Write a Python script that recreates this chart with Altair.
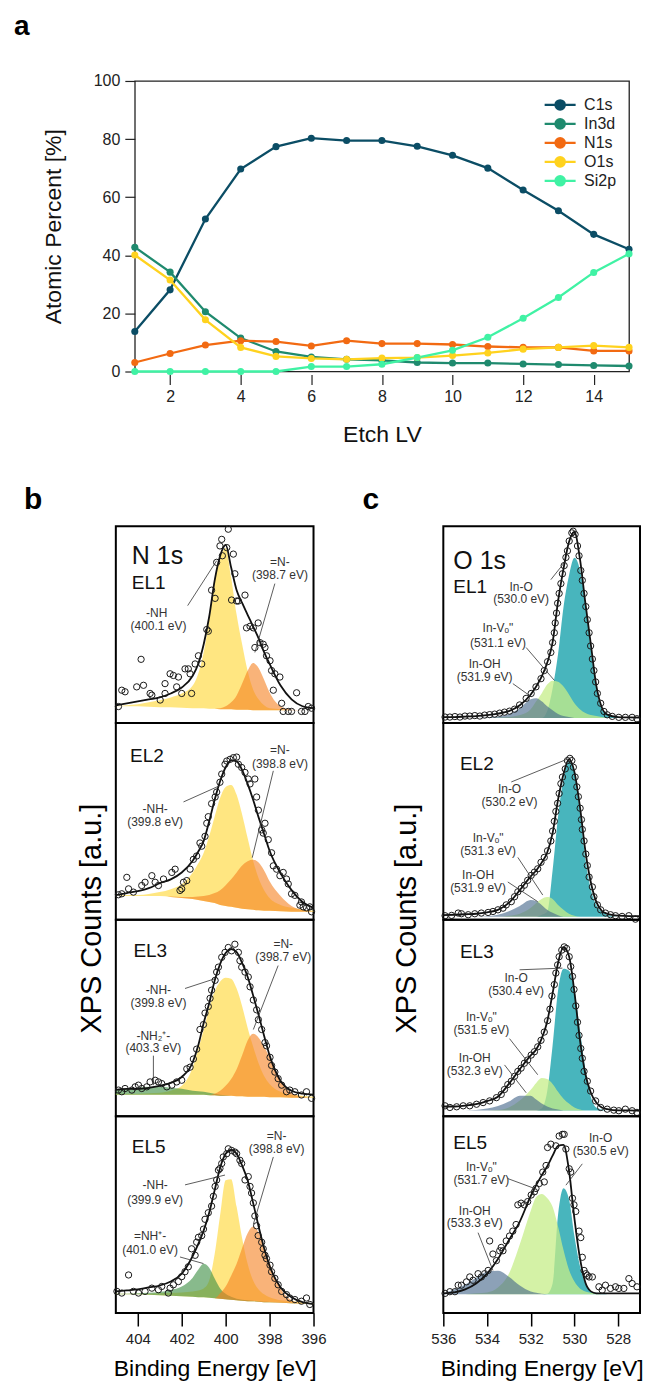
import altair as alt
import pandas as pd

FONT = "Liberation Sans"

# ---------------- (a) atomic percent vs etch level ----------------
etch_lv = list(range(1, 16))
elements = ["C1s", "In3d", "N1s", "O1s", "Si2p"]
c1s = [13.8, 28.1, 52.5, 69.7, 77.4, 80.3, 79.5, 79.5, 77.5, 74.4, 70.0, 62.5, 55.3, 47.2, 42.1]
in3d = [42.8, 34.2, 20.6, 11.5, 6.9, 5.0, 4.2, 3.8, 3.1, 2.9, 2.9, 2.6, 2.4, 2.1, 1.9]
n1s = [3.1, 6.2, 9.1, 10.6, 10.3, 8.8, 10.6, 9.6, 9.6, 9.3, 8.6, 8.3, 8.3, 7.1, 7.1]
o1s = [40.1, 31.5, 17.8, 8.3, 5.2, 4.5, 4.2, 4.6, 4.8, 5.5, 6.4, 7.7, 8.3, 8.9, 8.3]
si2p = [0, 0, 0, 0, 0, 1.7, 1.7, 2.5, 4.8, 7.3, 11.8, 18.3, 25.5, 34.1, 40.5]
a_xticks = [2, 4, 6, 8, 10, 12, 14]
a_yticks = [0, 20, 40, 60, 80, 100]

# ---------------- (b) N 1s spectra ----------------
n_ticks = [404, 402, 400, 398, 396]
n_grid = [405, 404.5, 404, 403.5, 403, 402.5, 402, 401.5, 401.25, 401, 400.75, 400.5, 400.25,
          400, 399.75, 399.5, 399.25, 399, 398.75, 398.5, 398.25, 398, 397.5, 397, 396.5, 396]

n1_bg = [17, 17, 17, 16.5, 16, 16, 15.5, 15, 15, 15, 14.5, 14.5, 14, 14, 14, 13.5, 13.5, 13.5, 13, 13, 13, 13, 13, 13, 13, 13]
n1_nh = [17, 18, 19, 21, 23, 26, 30, 38, 50, 72, 105, 145, 168, 178, 148, 110, 80, 53, 34, 24, 18, 15, 14, 13, 13, 13]
n1_n = [17, 17, 17, 16.5, 16, 16, 15.5, 15, 15, 15, 14.5, 14.5, 15, 17, 21, 28, 40, 53, 61, 56, 44, 31, 17, 13.5, 13, 13]
n1_env = [18, 20, 22, 24, 26, 30, 36, 48, 60, 80, 108, 145, 170, 181, 158, 135, 122, 110, 98, 86, 72, 60, 38, 24, 17, 15]
n1_pE = [404.88, 404.73, 404.58, 404.05, 403.85, 403.74, 403.44, 403.36, 402.98, 402.76, 402.76, 402.53, 402.38,
         402.23, 402.15, 402.0, 401.85, 401.7, 401.62, 401.55, 401.39, 401.24, 401.09, 400.86, 400.79, 400.64,
         400.48, 400.41, 400.26, 400.18, 400.15, 399.95, 399.88, 399.65, 399.58, 399.5, 399.73, 399.42, 399.12,
         399.05, 398.89, 398.74, 398.67, 398.52, 398.44, 398.29, 398.21, 398.14, 397.98, 397.91, 397.76, 397.53,
         397.83, 397.45, 397.15, 396.77, 396.55, 396.39, 396.24, 396.09, 397.38, 397.0]
n1_pI = [16.7, 33.3, 31.7, 36.7, 64.7, 38.3, 30, 28.3, 23.3, 40, 30, 50, 48.3, 36.7, 46.7, 30, 55, 55, 50, 30, 60,
         68.3, 60, 95, 93.3, 135, 126.7, 163.3, 180, 186.7, 170, 178.3, 197, 171.7, 151.7, 124, 125, 124, 130, 96.7,
         98.3, 96.7, 76.7, 101.7, 81.7, 80, 76.7, 68.3, 63.3, 53.3, 50, 46.7, 33.3, 20, 11.7, 30.7, 11.7, 11.7, 16.7,
         15, 11.7, 11.7]

n2_bg = [24, 24, 24, 24, 24, 23, 22, 21, 20, 19, 18, 17, 15, 14, 13, 12, 11, 10.5, 10, 9.5, 9, 9, 8.5, 8, 8, 8]
n2_nh = [24, 25, 25, 26, 28, 31, 36, 48, 57, 68, 85, 105, 124, 135, 137, 127, 107, 83, 60, 42, 30, 22, 15, 12, 10, 9]
n2_n = [24, 24, 24, 24, 24, 23.5, 23, 23, 23.5, 24, 25, 27, 30, 35, 41, 48, 55, 59.5, 61, 58, 50, 39, 24, 14, 10, 8]
n2_env = [25, 27, 29, 32, 37, 41, 48, 60, 69, 80, 100, 122, 141, 155, 162, 161, 152, 138, 122, 104, 87, 70, 47, 30, 18, 12]
n2_pE = [404.50, 404.42, 404.88, 404.20, 403.82, 403.67, 403.36, 403.21, 403.06, 402.83, 402.45, 402.30, 402.08,
         402.0, 401.92, 401.77, 401.62, 401.47, 401.32, 401.17, 401.09, 400.94, 400.86, 400.79, 400.64, 400.48,
         400.41, 400.26, 400.18, 400.03, 399.95, 399.80, 399.65, 399.50, 399.42, 399.27, 399.12, 398.97, 398.89,
         398.67, 398.59, 398.51, 398.36, 398.29, 398.21, 398.06, 397.91, 397.83, 397.68, 397.53, 397.38, 397.23,
         397.15, 397.0, 396.85, 396.62, 396.47, 396.32, 396.17, 396.09, 396.55, 404.73]
n2_pI = [43, 31.3, 25.3, 28, 34.7, 38, 44.7, 38, 34.7, 41.3, 48, 51.3, 29.7, 31.3, 38, 39.7, 51.3, 61.3, 64.7, 78,
         74.7, 84.7, 98, 104.7, 118, 124.7, 129.7, 139.7, 148, 158, 161.3, 163, 164.7, 165.3, 158, 154.7, 149.7, 143,
         138, 143, 124.7, 111.3, 91.3, 88, 98, 81.3, 68, 54.7, 51.3, 44.7, 48, 41.3, 36.3, 26.3, 24.7, 14.7, 13, 12,
         13, 8, 18, 26.3]

n3_bg = [22, 22, 22, 22, 22, 22, 22, 22, 22, 22, 21.5, 21.5, 21, 21, 21, 20.5, 20.5, 20, 20, 20, 20, 19.5, 19.5, 19, 19, 19]
n3_nh2 = [27, 28, 29, 30, 30, 29, 28, 26, 25.5, 25, 24, 23, 22, 21.5, 21, 20.5, 20.5, 20, 20, 20, 20, 19.5, 19.5, 19, 19, 19]
n3_nh = [23, 23, 23, 23.5, 24, 26, 31, 50, 68, 88, 110, 127, 137, 141, 140, 130, 112, 90, 71, 54, 41, 33, 25, 22, 21, 20]
n3_n = [22, 22, 22, 22, 22, 22, 22, 22, 22, 22, 21.5, 23, 26, 31, 38, 48, 62, 77, 84, 80, 71, 60, 36, 24, 20, 19]
n3_env = [27, 28, 28, 29, 31, 34, 40, 55, 72, 95, 115, 138, 155, 166, 170, 167, 156, 142, 123, 103, 82, 62, 36, 26, 23, 22]
n3_pE = [404.88, 404.73, 404.58, 404.27, 404.12, 403.97, 403.82, 403.59, 403.44, 403.21, 403.06, 402.91, 402.68,
         402.45, 402.23, 402.0, 401.77, 401.62, 401.47, 401.32, 401.17, 401.01, 400.94, 400.79, 400.71, 400.64,
         400.48, 400.41, 400.33, 400.18, 400.03, 399.88, 399.73, 399.58, 399.42, 399.35, 399.27, 399.12, 398.97,
         398.89, 398.74, 398.59, 398.51, 398.36, 398.21, 398.14, 397.98, 397.91, 397.76, 397.61, 397.45, 397.23,
         397.08, 396.85, 396.55, 396.32, 396.09]
n3_pI = [26.7, 25, 28.3, 26.7, 30, 31.7, 28.3, 30, 35, 36.7, 35, 33.3, 30, 31.7, 35, 36.7, 48.3, 50, 58.3, 68.3,
         88.3, 93.3, 105, 111.7, 120, 128.3, 138.3, 146.7, 151.7, 161.7, 166.7, 171.7, 168.3, 175, 166.7, 158.3,
         151.7, 146.7, 141.7, 131.7, 118.3, 108.3, 98.3, 88.3, 75, 71.7, 60, 51.7, 45, 38.3, 31.7, 25, 26.7, 25,
         21.7, 25, 18.3]

n5_bg = [19, 19, 19, 18.5, 18, 17.5, 17, 16.5, 16, 16, 15.5, 15, 14.5, 14, 13.5, 13, 12.5, 12, 12, 11.5, 11, 11, 10.5, 10, 9.5, 9]
n5_nhp = [19.5, 19.5, 20, 20.5, 21.5, 23.5, 27, 36, 44, 50, 46, 35, 25, 19.5, 16.5, 14.5, 13.5, 13, 12.5, 12, 11.5, 11.3, 10.7, 10.2, 9.6, 9]
n5_nh = [19.5, 19.5, 19.5, 19.5, 20, 20.5, 21, 22, 23, 25, 33, 60, 100, 135, 136, 108, 76, 50, 33, 24, 19, 16, 13, 12, 11, 10]
n5_n = [19, 19, 19, 18.5, 18, 17.5, 17, 16.5, 16, 16, 15.5, 15, 20, 27, 38, 50, 66, 81, 88, 82, 68, 51, 25, 13, 10, 9]
n5_env = [22, 23, 24, 26, 28, 32, 40, 58, 70, 84, 102, 125, 148, 162, 166, 162, 150, 135, 112, 88, 66, 48, 26, 16, 11, 9]
n5_pE = [404.95, 404.73, 404.42, 404.2, 403.97, 403.67, 403.36, 403.06, 402.91, 402.61, 402.53, 402.38, 402.15,
         402.0, 401.85, 401.7, 401.55, 401.39, 401.32, 401.24, 401.09, 401.01, 400.94, 400.79, 400.64, 400.56,
         400.48, 400.41, 400.33, 400.26, 400.18, 400.11, 399.95, 399.88, 399.73, 399.58, 399.5, 399.35, 399.27,
         399.12, 398.97, 398.89, 398.82, 398.74, 398.67, 398.59, 398.52, 398.36, 398.29, 398.21, 398.14, 397.98,
         397.91, 397.76, 397.61, 397.45, 397.23, 397.08, 396.85, 396.55, 396.32, 396.17]
n5_pI = [22, 20.3, 38.7, 22, 20.3, 22, 25.3, 23.7, 27, 20.3, 25.3, 28.7, 32, 37, 42, 47, 65.3, 58.7, 72, 77, 78.7,
         85.3, 95.3, 102, 108.7, 118.7, 128.7, 135.3, 145.3, 147, 152, 158.7, 162, 167, 165.3, 163.7, 162, 155.3,
         152, 135.3, 138.7, 128.7, 122, 112, 98.7, 88.7, 78.7, 72, 65.3, 58.7, 55.3, 48.7, 42, 35.3, 28.7, 22, 18.7,
         15.3, 13.7, 12, 15.3, 8.7]

# ---------------- (c) O 1s spectra ----------------
o_ticks = [536, 534, 532, 530, 528]
o_grid = [536, 535.5, 535, 534.5, 534, 533.5, 533, 532.5, 532, 531.75, 531.5, 531.25, 531, 530.75, 530.5,
          530.25, 530, 529.75, 529.5, 529.25, 529, 528.75, 528.5, 528, 527.5, 527]

o1_bg = [5, 5, 5, 5, 5, 5, 5, 5, 5, 5, 5, 5, 5, 5, 5, 5, 5, 5, 5, 5, 5, 5, 5, 5, 5, 5]
o1_ino = [5, 5, 5, 5, 5, 5, 5, 5, 5, 5, 5, 12, 35, 70, 118, 150, 168, 156, 122, 75, 35, 14, 8, 6, 5, 5]
o1_vo = [5, 5, 5, 5, 5, 5.5, 6, 8, 14, 22, 30, 39, 43, 42, 37, 29, 20, 14, 10, 8, 7, 6, 5, 5, 5, 5]
o1_oh = [5, 5, 5, 5, 5.5, 6.5, 9, 15, 24, 25, 22, 17, 13, 9, 7, 6, 5, 5, 5, 5, 5, 5, 5, 5, 5, 5]
o1_env = [6, 6, 6.5, 7, 8, 9.5, 12, 18, 29, 37, 47, 61, 82, 124, 157, 184, 194, 167, 122, 80, 38, 16, 8.5, 6, 5.7, 5.5]
o1_pE = [535.92, 535.7, 535.47, 535.24, 535.01, 534.79, 534.56, 534.33, 534.11, 533.88, 533.65, 533.42, 533.2,
         532.97, 532.74, 532.51, 532.21, 531.98, 531.76, 531.53, 531.38, 531.23, 531.08, 531.0, 530.92, 530.88,
         530.82, 530.77, 530.70, 530.62, 530.55, 530.47, 530.39, 530.32, 530.24, 530.12, 530.06, 529.97, 529.86,
         529.79, 529.71, 529.64, 529.56, 529.48, 529.41, 529.33, 529.26, 529.18, 529.11, 529.03, 528.95, 528.80,
         528.65, 528.5, 528.27, 527.97, 527.67, 527.36, 527.14]
o1_pI = [6, 6, 6.5, 6, 7, 7, 7.5, 7, 8, 8.5, 9, 10, 11, 12, 14, 18.3, 25, 30, 36.7, 45, 53.3, 62.3, 71.7, 81.7,
         91.7, 101.7, 111.7, 121.7, 131.7, 141.7, 151.7, 160, 168.3, 175, 185, 193.3, 195, 191.7, 180, 170, 155,
         145, 131.7, 118.3, 105, 91.7, 78.3, 65, 53.3, 41.7, 30, 20, 11.7, 8.3, 6.7, 5.7, 5.7, 5.7, 4.3]

o2_bg = [3, 3, 3, 3, 3, 3, 3, 3, 3, 3, 3, 3, 3, 3, 3, 3, 3, 3, 3, 3, 3, 3, 3, 3, 3, 3]
o2_ino = [3, 3, 3, 3, 3, 3, 3, 3, 3, 3, 5, 8, 50, 105, 143, 161, 148, 110, 62, 31, 15, 8, 5, 3, 3, 3]
o2_vo = [3, 3, 3, 3, 3, 3, 4, 6, 12, 17, 21, 23, 21, 15, 10, 6, 4, 3, 3, 3, 3, 3, 3, 3, 3, 3]
o2_oh = [3, 3, 3, 3, 3.5, 5, 8.5, 14, 20, 19, 15, 10, 7, 4.5, 3, 3, 3, 3, 3, 3, 3, 3, 3, 3, 3, 3]
o2_env = [4.5, 5, 5.5, 6, 7.5, 10, 17, 30, 44, 50, 58, 68, 88, 122, 148, 163, 150, 115, 70, 38, 18, 9, 6, 4, 3.5, 3.5]
o2_pE = [535.92, 535.62, 535.32, 535.17, 534.86, 534.56, 534.26, 533.95, 533.73, 533.5, 533.27, 533.12, 532.89,
         532.74, 532.59, 532.44, 532.29, 532.14, 531.98, 531.83, 531.68, 531.53, 531.38, 531.23, 531.08, 531.0,
         530.92, 530.85, 530.77, 530.70, 530.62, 530.55, 530.42, 530.32, 530.21, 530.12, 530.05, 529.97, 529.89,
         529.82, 529.74, 529.68, 529.64, 529.56, 529.48, 529.41, 529.33, 529.18, 529.11, 528.95, 528.80, 528.58,
         528.35, 528.12, 527.82, 527.51, 527.21]
o2_pI = [4, 4.3, 6.7, 6, 5, 6, 6.7, 7.3, 8.3, 10, 11.7, 15, 18.3, 23.3, 28.3, 31.7, 35, 40, 45, 48.3, 51.7, 58.3,
         63.3, 70, 80, 90, 100, 110, 118.3, 128.3, 138.3, 145, 153.3, 161.7, 164, 161.7, 155, 145, 135, 125, 113.3,
         101.7, 91.7, 80, 66.7, 55, 43.3, 33.3, 23.3, 15, 10, 6.7, 5, 4, 3.3, 4, 0.5]

o3_bg = [6, 6, 6, 6, 6, 6, 6, 6, 6, 6, 6, 6, 6, 6, 6, 6, 6, 6, 6, 6, 6, 6, 6, 6, 6, 6]
o3_ino = [6, 6, 6, 6, 6, 6, 6, 6, 6, 6, 8, 25, 72, 128, 150, 148, 128, 88, 48, 20, 9, 7, 6, 6, 6, 6]
o3_vo = [6, 6, 6, 6, 6, 6.5, 9, 16, 27, 34, 39, 38, 33, 25, 18, 13, 9, 7, 6, 6, 6, 6, 6, 6, 6, 6]
o3_oh = [6, 6, 6, 6.5, 8, 10.5, 15, 21, 21, 17, 13, 10, 8, 7, 6, 6, 6, 6, 6, 6, 6, 6, 6, 6, 6, 6]
o3_env = [10, 10, 11, 12.5, 15.5, 20, 33, 48, 62, 68, 79, 96, 125, 156, 172, 163, 126, 78, 43, 24, 14, 9, 7.3, 6, 6, 5.5]
o3_pE = [535.92, 535.7, 535.39, 535.09, 534.79, 534.48, 534.18, 533.88, 533.57, 533.35, 533.2, 533.05, 532.89,
         532.74, 532.59, 532.44, 532.29, 532.14, 531.98, 531.83, 531.68, 531.53, 531.38, 531.23, 531.12, 531.03,
         530.92, 530.85, 530.77, 530.70, 530.58, 530.47, 530.36, 530.24, 530.17, 530.09, 530.02, 529.94, 529.86,
         529.79, 529.71, 529.64, 529.56, 529.41, 529.26, 529.03, 528.8, 528.5, 528.2, 527.97, 527.67, 527.36, 527.14]
o3_pI = [10.7, 9, 9.7, 10.7, 10.7, 12.3, 14, 15.7, 19, 22.3, 27.3, 32.3, 35.7, 40.7, 45.7, 49, 54, 57.3, 62.3, 65.7,
         70.7, 77.3, 85.7, 97.3, 109, 122.3, 134, 145.7, 154, 162.3, 169, 172.3, 170.7, 162.3, 152.3, 142.3, 129,
         112.3, 95.7, 82.3, 69, 59, 45.7, 35.7, 25.7, 15.7, 9, 7.3, 6.3, 5.7, 7.3, 5.7, 4]

o5_bg = [19, 19, 19, 19, 19, 19, 19, 19, 19, 19, 19, 19, 19, 19, 19, 19, 19, 19, 19, 19, 19, 19, 19, 19, 19, 19]
o5_ino = [19, 19, 19, 19, 19, 19, 19, 19, 19, 19, 19, 19.5, 30, 100, 127, 116, 78, 48, 30, 22, 20.5, 20, 19, 19, 19, 19]
o5_vo = [19, 19, 19, 20, 21, 26, 40, 70, 104, 118, 121, 117, 108, 88, 64, 44, 32, 25, 22, 20.5, 19.5, 19, 19, 19, 19, 19]
o5_oh = [20, 24, 29, 36, 42, 43, 37, 28, 22, 20.5, 19.5, 19, 19, 19, 19, 19, 19, 19, 19, 19, 19, 19, 19, 19, 19, 19]
o5_env = [20, 21, 24, 30, 40, 55, 74, 93, 119, 130, 140, 149, 160, 170, 171, 145, 96, 56, 31, 22, 20, 20, 20, 20, 20, 20]
o5_pE = [535.92, 535.70, 535.47, 535.32, 535.17, 534.94, 534.79, 534.64, 534.41, 534.26, 534.11, 533.95, 533.88,
         533.73, 533.57, 533.42, 533.35, 533.27, 533.12, 532.97, 532.82, 532.67, 532.59, 532.44, 532.29, 532.14,
         531.98, 531.83, 531.76, 531.61, 531.45, 531.38, 531.30, 531.23, 531.08, 530.85, 530.70, 530.55, 530.47,
         530.39, 530.24, 530.17, 530.09, 530.02, 529.94, 529.79, 529.71, 529.64, 529.56, 529.48, 529.41, 529.33,
         529.18, 528.88, 528.73, 528.58, 528.35, 528.12, 527.97, 527.74, 527.51, 527.36, 527.14]
o5_pI = [20, 21.7, 21.7, 28.3, 28.3, 31.7, 36.7, 33.3, 40, 36.7, 40, 43.3, 73.3, 60, 53.3, 63.3, 66.7, 63.3, 73.3,
         78.3, 83.3, 90, 110, 111.7, 110, 113.3, 120, 123.3, 126.7, 131.7, 143.3, 133.3, 150, 168.3, 171.7, 170, 180,
         181.7, 181.7, 166.7, 146.7, 143.3, 116.7, 110, 103.3, 83.3, 76.7, 56.7, 43.3, 40, 38.3, 36.7, 36.7, 26.7,
         23.3, 28.3, 25, 26.7, 25, 25, 35, 30, 26.7]

VO = "In-V\u2092\""

# annotation texts: (labels, energies, intensities)
n1_ann = (["-NH", "(400.1 eV)", "=N-", "(398.7 eV)"], [403.14, 403.06, 397.53, 397.53], [111.7, 98.3, 163.3, 150])
n2_ann = (["-NH-", "(399.8 eV)", "=N-", "(398.8 eV)"], [403.21, 403.21, 397.53, 397.53], [113, 99.7, 173, 158])
n3_ann = (["-NH-", "(399.8 eV)", "-NH\u2082\u207a-", "(403.3 eV)", "=N-", "(398.7 eV)"],
          [403.06, 403.06, 403.29, 403.29, 397.38, 397.38], [128.3, 115, 81.7, 69, 175, 161.7])
n5_ann = (["-NH-", "(399.9 eV)", "=NH\u207a-", "(401.0 eV)", "=N-", "(398.8 eV)"],
          [403.21, 403.21, 403.44, 403.44, 397.68, 397.68], [130.3, 115.3, 78.7, 63.7, 180.3, 167])
o1_ann = (["In-O", "(530.0 eV)", VO, "(531.1 eV)", "In-OH", "(531.9 eV)"],
          [532.44, 532.44, 533.5, 533.5, 534.11, 534.11], [138.3, 125.7, 96.7, 81.7, 60, 46.7])
o2_ann = (["In-O", "(530.2 eV)", VO, "(531.3 eV)", "In-OH", "(531.9 eV)"],
          [532.97, 532.97, 533.95, 533.95, 534.41, 534.41], [133.3, 120, 83.3, 70, 45, 31.7])
o3_ann = (["In-O", "(530.4 eV)", VO, "(531.5 eV)", "In-OH", "(532.3 eV)"],
          [532.67, 532.67, 534.26, 534.26, 534.56, 534.56], [140.7, 127.3, 100.7, 87.3, 59, 46.3])
o5_ann = (["In-O", "(530.5 eV)", VO, "(531.7 eV)", "In-OH", "(533.3 eV)"],
          [528.8, 528.8, 534.26, 534.26, 534.56, 534.56], [178.3, 165, 148.3, 135, 103.3, 91.7])

# leader lines: (E1, I1, E2, I2)
n1_lead = ([401.73, 397.76], [119.3, 141.7], [400.41, 398.67], [165, 71.7])
n2_lead = ([401.92, 397.83], [119.7, 151.3], [400.26, 398.79], [136.3, 63])
n3_lead = ([401.85, 403.29, 397.61], [130, 61.7, 153.3], [400.48, 403.29, 398.74], [140, 31.7, 88.3])
n5_lead = ([401.85, 402.08, 397.83], [130.3, 57, 158.7], [400.03, 401.01, 398.74], [140.3, 50.3, 90.3])
o1_lead = ([531.08, 532.21, 532.82], [145.7, 76.7, 40], [530.39, 530.92, 531.98], [165, 43.3, 26.7])
o2_lead = ([532.89, 532.59, 533.05], [140, 63.3, 38.3], [530.32, 531.45, 531.68], [163.3, 25, 18.3])
o3_lead = ([532.51, 532.97, 533.2], [149, 79, 52.3], [530.55, 531.68, 532.21], [150.7, 42.3, 24])
o5_lead = ([529.64, 533.05, 534.41], [151.7, 136.7, 81.7], [530.39, 531.83, 533.73], [130, 126.7, 43.3])

# panel headings: (texts, energies, intensities)
n1_head = (["N 1s", "EL1"], [404.27, 404.27], [170, 142])
n2_head = (["EL2"], [404.35], [166.3])
n3_head = (["EL3"], [404.2], [167.7])
n5_head = (["EL5"], [404.27], [168.7])
o1_head = (["O 1s", "EL1"], [535.54, 535.54], [165, 138.3])
o2_head = (["EL2"], [535.24], [158.3])
o3_head = (["EL3"], [535.24], [167.3])
o5_head = (["EL5"], [535.54], [173.3])

# ---------------- styles ----------------
FILL = {"nh": ("#ffdc50", 0.72), "n": ("#f5801f", 0.6), "g": ("#3f8f45", 0.62),
        "ino": ("#1aa3ad", 0.8), "vo": ("#c6ee88", 0.75), "oh": ("#46688a", 0.62)}
PW, PH = 198, 197
ONE = pd.DataFrame({"k": [0]})


def deco_text(text, x, y, **style):
    return alt.Chart(ONE).mark_text(text=text, font=FONT, **style).encode(
        x=alt.value(x), y=alt.value(y))


def anchor(x, y):
    return alt.Chart(ONE).mark_point(opacity=0, size=1, filled=True).encode(
        x=alt.value(x), y=alt.value(y))


def panel(xf, dom, ticks, grid, bg, comps, env, pE, pI, ann, lead, head, bottom, extra=(), width=PW):
    xs = alt.Scale(domain=dom, reverse=True, nice=False, zero=False)
    ys = alt.Scale(domain=[0, 200], nice=False, zero=False)
    if bottom:
        xax = alt.Axis(values=ticks, title="Binding Energy [eV]", domain=False, grid=False,
                       tickSize=13, tickWidth=1.5, tickColor="#000", labelFontSize=15,
                       labelPadding=6, labelColor="#222", labelFlush=False, labelFont=FONT,
                       titleFont=FONT, titleFontSize=23, titleFontWeight="normal",
                       titlePadding=11, titleColor="#000")
    else:
        xax = None

    def X():
        return alt.X(f"{xf}:Q", scale=xs, axis=xax)

    def Y(f):
        return alt.Y(f"{f}:Q", scale=ys, axis=None)

    layers = []
    for kind, vals in comps:
        col, op = FILL[kind]
        df = pd.DataFrame({xf: grid, "top": vals, "bot": bg})
        layers.append(alt.Chart(df).mark_area(color=col, opacity=op, interpolate="monotone")
                      .encode(x=X(), y=Y("top"), y2="bot:Q"))
    layers.append(alt.Chart(pd.DataFrame({xf: grid, "I": env}))
                  .mark_line(color="#111", strokeWidth=1.8, interpolate="monotone")
                  .encode(x=X(), y=Y("I")))
    layers.append(alt.Chart(pd.DataFrame({xf: pE, "I": pI}))
                  .mark_point(shape="circle", filled=False, size=40, color="#1a1a1a",
                              strokeWidth=1.0, opacity=1)
                  .encode(x=X(), y=Y("I")))
    lx, ly, lx2, ly2 = lead
    layers.append(alt.Chart(pd.DataFrame({xf: lx, "I": ly, "X2": lx2, "I2": ly2}))
                  .mark_rule(color="#333", strokeWidth=0.8)
                  .encode(x=X(), y=Y("I"), x2="X2:Q", y2="I2:Q"))
    at, ax_, ay = ann
    layers.append(alt.Chart(pd.DataFrame({"t": at, xf: ax_, "I": ay}))
                  .mark_text(font=FONT, fontSize=12, color="#333", align="center", baseline="middle")
                  .encode(x=X(), y=Y("I"), text="t:N"))
    ht, hx, hy = head
    for t, e, v in zip(ht, hx, hy):
        fs = 25 if "1s" in t else 19
        layers.append(alt.Chart(pd.DataFrame({"t": [t], xf: [e], "I": [v]}))
                      .mark_text(font=FONT, fontSize=fs, color="#111", align="left", baseline="middle")
                      .encode(x=X(), y=Y("I"), text="t:N"))
    layers.extend(extra)
    return alt.layer(*layers).properties(
        width=width, height=PH, view=alt.ViewBackground(stroke="#000", strokeWidth=2))


# ---------------- build panel a ----------------
df_a = pd.DataFrame({
    "LV": etch_lv * len(elements),
    "element": [e for e in elements for _ in etch_lv],
    "pct": c1s + in3d + n1s + o1s + si2p,
})
cs = alt.Scale(domain=elements, range=["#0b4d65", "#1f8a6e", "#f26a12", "#ffd21e", "#40f2a4"])
leg = alt.Legend(title=None, orient="none", legendX=437, legendY=16, padding=0,
                 symbolType="M-2.5,0H2.5M0.75,0A0.75,0.75,0,1,1,-0.75,0A0.75,0.75,0,1,1,0.75,0Z",
                 symbolSize=154, symbolStrokeWidth=2.3, labelFontSize=16, labelFont=FONT,
                 labelColor="#222", labelOffset=16, rowPadding=-1, symbolOpacity=1)
ax_x = alt.Axis(values=a_xticks, title="Etch LV", domain=False, grid=False, offset=3, tickSize=10,
                tickWidth=1.2, tickColor="#222", labelFontSize=16, labelPadding=4, labelColor="#222",
                labelFont=FONT, titleFont=FONT, titleFontSize=23, titlePadding=19,
                titleFontWeight="normal", titleColor="#111")
ax_y = alt.Axis(values=a_yticks, title="Atomic Percent [%]", domain=False, grid=False, tickSize=10,
                tickWidth=1.2, tickColor="#222", labelFontSize=16, labelPadding=5, labelColor="#222",
                labelFlush=False, labelFont=FONT, titleFont=FONT, titleFontSize=23, titlePadding=28,
                titleFontWeight="normal", titleColor="#111")
base_a = alt.Chart(df_a).encode(
    x=alt.X("LV:Q", scale=alt.Scale(domain=[1, 15], nice=False, zero=False), axis=ax_x),
    y=alt.Y("pct:Q", scale=alt.Scale(domain=[0, 100], nice=False), axis=ax_y),
    color=alt.Color("element:N", scale=cs, legend=leg),
)
chart_a = alt.layer(
    base_a.mark_line(strokeWidth=2.3),
    base_a.mark_point(filled=True, size=50, opacity=1),
    deco_text("a", -121, -46, fontSize=28, fontWeight="bold", align="left", baseline="alphabetic", color="#000"),
    anchor(-125, -70),
    anchor(0, 380),
).properties(width=495, height=291, view=alt.ViewBackground(stroke="#222", strokeWidth=1.3))

spacer = alt.Chart(ONE).mark_point(opacity=0, size=1).encode(
    x=alt.value(0), y=alt.value(0)).properties(width=1, height=1, view=alt.ViewBackground(stroke=None))
top_row = alt.hconcat(spacer, chart_a, spacing=18, bounds="flush").resolve_scale(
    x="independent", y="independent")

# ---------------- build panels b ----------------
NX, ND = "EN", [396, 405]
b1 = panel(NX, ND, n_ticks, n_grid, n1_bg, [("nh", n1_nh), ("n", n1_n)], n1_env, n1_pE, n1_pI,
           n1_ann, n1_lead, n1_head, False,
           extra=[deco_text("b", -92, -17, fontSize=30, fontWeight="bold", align="left",
                            baseline="alphabetic", color="#000"),
                  anchor(-106, -40), anchor(218, 0)])
b2 = panel(NX, ND, n_ticks, n_grid, n2_bg, [("nh", n2_nh), ("n", n2_n)], n2_env, n2_pE, n2_pI,
           n2_ann, n2_lead, n2_head, False)
b3 = panel(NX, ND, n_ticks, n_grid, n3_bg, [("nh", n3_nh), ("g", n3_nh2), ("n", n3_n)], n3_env, n3_pE, n3_pI,
           n3_ann, n3_lead, n3_head, False,
           extra=[deco_text("XPS Counts [a.u.]", -24, -1, fontSize=29, angle=270, align="center",
                            baseline="middle", color="#000")])
b5 = panel(NX, ND, n_ticks, n_grid, n5_bg, [("nh", n5_nh), ("g", n5_nhp), ("n", n5_n)], n5_env, n5_pE, n5_pI,
           n5_ann, n5_lead, n5_head, True)

# ---------------- build panels c ----------------
OX, OD = "EO", [527, 536]
c1 = panel(OX, OD, o_ticks, o_grid, o1_bg, [("ino", o1_ino), ("vo", o1_vo), ("oh", o1_oh)], o1_env, o1_pE, o1_pI,
           o1_ann, o1_lead, o1_head, False, width=197,
           extra=[deco_text("c", -81, -17, fontSize=30, fontWeight="bold", align="left",
                            baseline="alphabetic", color="#000"),
                  anchor(-90, -40)])
c2 = panel(OX, OD, o_ticks, o_grid, o2_bg, [("ino", o2_ino), ("vo", o2_vo), ("oh", o2_oh)], o2_env, o2_pE, o2_pI,
           o2_ann, o2_lead, o2_head, False, width=197)
c3 = panel(OX, OD, o_ticks, o_grid, o3_bg, [("ino", o3_ino), ("vo", o3_vo), ("oh", o3_oh)], o3_env, o3_pE, o3_pI,
           o3_ann, o3_lead, o3_head, False, width=197,
           extra=[deco_text("XPS Counts [a.u.]", -36, -1, fontSize=29, angle=270, align="center",
                            baseline="middle", color="#000")])
c5 = panel(OX, OD, o_ticks, o_grid, o5_bg, [("ino", o5_ino), ("vo", o5_vo), ("oh", o5_oh)], o5_env, o5_pE, o5_pI,
           o5_ann, o5_lead, o5_head, True, width=197)

col_b = alt.vconcat(b1, b2, b3, b5, spacing=0, bounds="flush").resolve_scale(x="independent", y="independent")
col_c = alt.vconcat(c1, c2, c3, c5, spacing=0, bounds="flush").resolve_scale(x="independent", y="independent")
bottom = alt.hconcat(col_b, col_c, spacing=16).resolve_scale(x="independent", y="independent")

chart = alt.vconcat(top_row, bottom, spacing=22).resolve_scale(
    x="independent", y="independent", color="independent"
).properties(padding=0).configure(font=FONT)

chart.save("out.html", embed_options={"renderer": "svg", "actions": False})
